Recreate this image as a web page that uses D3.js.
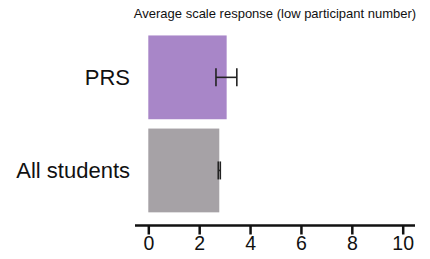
<!DOCTYPE html>
<html>
<head>
<meta charset="utf-8">
<script src="https://cdn.jsdelivr.net/npm/d3@7"></script>
<style>
  body { margin: 0; background: #fff; }
  text { font-family: "Liberation Sans", Arial, sans-serif; fill: #111; }
</style>
</head>
<body>
<svg id="chart" width="430" height="259"></svg>
<script>
// data
const groups = ['PRS', 'All students'];
const means = [3.08, 2.79];
const errLow = [2.66, 2.75];
const errHigh = [3.48, 2.83];
const barColors = ['#a886c8', '#a6a2a6'];
const xTicks = [0, 2, 4, 6, 8, 10];
const title = 'Average scale response (low participant number)';

const svg = d3.select('#chart');

const x = d3.scaleLinear().domain([0, 10]).range([148.3, 402.7]);
const y = d3.scaleBand().domain(groups).range([30.8, 217]).paddingInner(0.1).paddingOuter(0.05);

// title
svg.append('text')
  .attr('x', 275).attr('y', 18)
  .attr('text-anchor', 'middle')
  .style('font-size', '13px')
  .text(title);

// bars
svg.selectAll('rect.bar')
  .data(groups)
  .enter()
  .append('rect')
  .attr('class', 'bar')
  .attr('x', x(0))
  .attr('y', d => y(d))
  .attr('width', (d, i) => x(means[i]) - x(0))
  .attr('height', y.bandwidth())
  .attr('fill', (d, i) => barColors[i]);

// error bars
const err = svg.selectAll('g.err')
  .data(groups)
  .enter()
  .append('g')
  .attr('class', 'err')
  .attr('stroke', '#222')
  .attr('stroke-width', 1.6);
err.append('line')
  .attr('x1', (d, i) => x(errLow[i])).attr('x2', (d, i) => x(errHigh[i]))
  .attr('y1', d => y(d) + y.bandwidth() / 2).attr('y2', d => y(d) + y.bandwidth() / 2);
err.append('line')
  .attr('x1', (d, i) => x(errLow[i])).attr('x2', (d, i) => x(errLow[i]))
  .attr('y1', d => y(d) + y.bandwidth() / 2 - 9).attr('y2', d => y(d) + y.bandwidth() / 2 + 9);
err.append('line')
  .attr('x1', (d, i) => x(errHigh[i])).attr('x2', (d, i) => x(errHigh[i]))
  .attr('y1', d => y(d) + y.bandwidth() / 2 - 9).attr('y2', d => y(d) + y.bandwidth() / 2 + 9);

// category labels
svg.selectAll('text.cat')
  .data(groups)
  .enter()
  .append('text')
  .attr('class', 'cat')
  .attr('x', 130)
  .attr('y', d => y(d) + y.bandwidth() / 2)
  .attr('dy', '0.35em')
  .attr('text-anchor', 'end')
  .style('font-size', '22px')
  .text(d => d);

// x axis
const xAxis = svg.append('g')
  .attr('transform', 'translate(0,225.5)')
  .call(d3.axisBottom(x).tickValues(xTicks).tickSize(9).tickPadding(2).tickSizeOuter(0));
xAxis.select('.domain').remove();
xAxis.append('line')
  .attr('x1', 135).attr('x2', 415)
  .attr('stroke', '#111').attr('stroke-width', 2.5);
xAxis.selectAll('.tick line').attr('stroke', '#111').attr('stroke-width', 2.5);
xAxis.selectAll('.tick text')
  .style('font-size', '19.5px')
  .style('font-family', '"Liberation Sans", Arial, sans-serif')
  .attr('fill', '#111');
</script>
</body>
</html>
